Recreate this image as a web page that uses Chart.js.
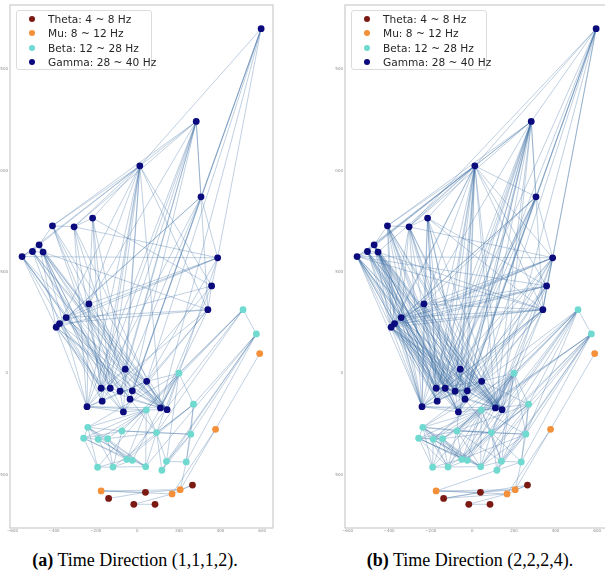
<!DOCTYPE html>
<html>
<head>
<meta charset="utf-8">
<script src="https://cdn.jsdelivr.net/npm/chart.js@4.4.1/dist/chart.umd.min.js"></script>
<style>
    body {
        margin: 0;
        width: 605px;
        height: 574px;
        overflow: hidden;
        background: #ffffff;
        position: relative;
    }
    canvas {
        position: absolute;
        top: 0;
    }
    .legend {
        position: absolute;
        top: 10px;
        width: 136px;
        height: 60px;
        border: 1px solid #dcdcdc;
        border-radius: 3px;
        background: rgba(255, 255, 255, 0.85);
        font-family: "DejaVu Sans", sans-serif;
        font-size: 10.6px;
        color: #262626;
        box-sizing: border-box;
    }
    .legend .row {
        position: absolute;
        left: 0;
        height: 14px;
        line-height: 14px;
        white-space: nowrap;
    }
    .legend .dot {
        position: absolute;
        left: 11.5px;
        top: 4px;
        width: 6px;
        height: 6px;
        border-radius: 50%;
    }
    .legend .label {
        position: absolute;
        left: 31px;
        top: 0;
    }
    .caption {
        position: absolute;
        top: 551px;
        width: 300px;
        text-align: center;
        font-family: "Liberation Serif", "Times New Roman", serif;
        font-size: 18px;
        line-height: 18px;
        color: #000000;
    }
</style>
</head>
<body>
<canvas id="chartA" width="280" height="545" style="left:0px"></canvas>
<canvas id="chartB" width="280" height="545" style="left:335px"></canvas>
<div class="legend" id="legendA" style="left:16px"></div>
<div class="legend" id="legendB" style="left:351px"></div>
<div class="caption" style="left:-15px"><b>(a)</b> Time Direction (1,1,1,2).</div>
<div class="caption" style="left:320px"><b>(b)</b> Time Direction (2,2,2,4).</div>

<script>
// frequency bands
const bandNames = ["Theta: 4 ~ 8 Hz", "Mu: 8 ~ 12 Hz", "Beta: 12 ~ 28 Hz", "Gamma: 28 ~ 40 Hz"];
const bandColors = ["#7b1a12", "#f4903a", "#70d9d0", "#0b0b7e"];

// electrode positions per band
const thetaX = [265, 39, -138, -17, 85];
const thetaY = [-552, -588, -618, -647, -647];

const muX = [588, 376, -174, 206, 167];
const muY = [97, -277, -581, -575, -596];

const betaX = [508, 572, 200, 270, 43, -238, -74, -258, -188, -143,
    92, 257, -51, -24, 140, 235, -191, -117, 40, 118];
const betaY = [314, 194, 0, -153, -181, -267, -285, -321, -326, -323,
    -293, -301, -425, -430, -435, -438, -464, -463, -461, -479];

const gammaX = [595, 283, 12, 306, -408, -304, -215, -472, -504, -453,
    -554, 386, 357, -233, 339, -342, -374, -390, -58, 45,
    -174, -130, -83, -24, -35, -169, -242, -67, 111, 143];
const gammaY = [1701, 1243, 1024, 871, 728, 723, 766, 634, 601, 598,
    576, 570, 431, 342, 314, 275, 245, 227, 20, -40,
    -74, -74, -89, -87, -128, -138, -165, -191, -171, -180];

// axis ticks
const xTickValues = [-600, -400, -200, 0, 200, 400, 600];
const yTickValues = [-500, 0, 500, 1000, 1500];

// connections (a)
const edgesA = [
    "G0 G2", "G0 G3", "G0 G11", "G0 G19", "G0 G23", "G0 G28", "G0 G24",
    "G1 G2", "G1 G4", "G1 G5", "G1 G3", "G1 G18", "G1 G20", "G1 G21", "G1 G22",
    "G1 G24", "G1 G26", "G1 G14", "G1 G13",
    "G2 G4", "G2 G7", "G2 G10", "G2 G5", "G2 G6", "G2 G13", "G2 G16", "G2 G18",
    "G2 G20", "G2 G21", "G2 G25", "G2 G26", "G2 G27", "G2 G14", "G2 G28", "G2 G12",
    "G3 G17", "G3 G20", "G3 G24", "G3 G22", "G3 G11", "G3 G15",
    "G4 G7", "G4 G5", "G4 G18", "G4 G22", "G4 G29", "G4 G21",
    "G5 G11", "G5 G6", "G5 G20", "G5 G24", "G5 G26", "G5 G28",
    "G6 G18", "G6 G21", "G6 G25", "G6 G13", "G6 G12",
    "G7 G8", "G7 G10", "G7 G17", "G7 G23", "G7 G28", "G7 G29", "G7 G27", "G7 G20",
    "G8 G10", "G8 G9", "G8 G16", "G8 G22", "G8 G24", "G8 G28", "G8 G29",
    "G9 G14", "G9 G25", "G9 G26", "G9 G18", "G9 G29", "G9 G21",
    "G10 G11", "G10 G15", "G10 G17", "G10 G20", "G10 G22", "G10 G28", "G10 G24",
    "G11 G12", "G11 G13", "G11 G15", "G11 G19", "G11 G29", "G11 G16",
    "G12 G14", "G12 G17", "G12 G22", "G12 G28",
    "G13 G15", "G13 G20", "G13 G23", "G13 G29", "G13 G26",
    "G14 G15", "G14 G16", "G14 G19", "G14 G27", "G14 G28", "G14 G21",
    "G15 G16", "G15 G17", "G15 G21", "G15 G24", "G15 G28", "G15 G29",
    "G16 G20", "G16 G22", "G16 G25", "G16 G29",
    "G17 G20", "G17 G26", "G17 G23", "G17 G27", "G17 G28",
    "G18 G19", "G18 G20", "G18 G29", "G18 G26",
    "G19 G24", "G19 G25", "G19 G26",
    "G20 G21", "G20 G26", "G20 G27", "G20 G28",
    "G21 G22", "G21 G25", "G22 G23", "G22 G27", "G23 G28", "G23 G29",
    "G24 G29", "G24 G27", "G25 G26", "G26 G27", "G26 G28", "G28 G29",
    "G26 B4", "G27 B4", "G29 B4", "G28 B2", "G19 B2", "G24 B10",
    "B0 B1", "B0 B2", "B0 B4", "B0 B6", "B0 B10", "B0 B12",
    "B1 B3", "B1 B11", "B1 B14", "B1 B15", "B1 B19", "B1 B18",
    "B2 B3", "B2 B4", "B2 B5", "B2 B10", "B2 B14", "B2 B13",
    "B3 B11", "B3 B15", "B3 B10", "B3 B17", "B3 B12",
    "B4 B5", "B4 B7", "B4 B8", "B4 B9", "B4 B12", "B4 B16", "B4 B18", "B4 B10",
    "B5 B6", "B5 B7", "B5 B8", "B5 B16", "B5 B12", "B5 B18", "B5 B9",
    "B6 B7", "B6 B10", "B6 B11", "B6 B17",
    "B7 B16", "B7 B8", "B7 B12", "B7 B13",
    "B8 B9", "B8 B17", "B8 B13", "B8 B18",
    "B9 B12", "B9 B18", "B9 B17", "B9 B10",
    "B10 B11", "B10 B14", "B10 B18", "B10 B19",
    "B11 B14", "B11 B15", "B11 B19",
    "B12 B13", "B12 B16", "B13 B17", "B13 B18",
    "B14 B15", "B14 B19", "B16 B17", "B17 B18",
    "B15 M3", "M0 M3", "M1 M4",
    "M2 M3", "M2 T1", "M2 M4", "M3 T0", "M3 T1",
    "M4 T0", "M4 T3", "T1 T2", "T3 T4"
];

// extra connections (b)
const extraB = [
    "G0 G1", "G0 G20", "G0 G22", "G0 G14", "G0 G5",
    "G1 G23", "G1 G27", "G1 G25", "G1 G7", "G1 G28", "G1 G29", "G1 G19",
    "G2 G8", "G2 G9", "G2 G17", "G2 G22", "G2 G23", "G2 G24", "G2 G29", "G2 G3", "G2 G11",
    "G3 G21", "G3 G25", "G3 G27", "G3 G13",
    "G4 G16", "G4 G17", "G4 G25", "G4 G27", "G4 G28", "G4 G26",
    "G5 G17", "G5 G22", "G5 G29", "G5 G15", "G5 G23",
    "G6 G20", "G6 G24", "G6 G26", "G6 G29", "G6 G14",
    "G7 G9", "G7 G15", "G7 G21", "G7 G24", "G7 G22", "G7 G26",
    "G8 G17", "G8 G20", "G8 G25", "G8 G27", "G8 G21",
    "G9 G10", "G9 G15", "G9 G20", "G9 G23", "G9 G27", "G9 G28",
    "G10 G16", "G10 G21", "G10 G25", "G10 G26", "G10 G29", "G10 G14", "G10 G12",
    "G11 G17", "G11 G20", "G11 G23", "G11 G25", "G11 G28", "G11 G14",
    "G12 G13", "G12 G15", "G12 G19", "G12 G24", "G12 G16",
    "G13 G16", "G13 G17", "G13 G21", "G13 G24", "G13 G28", "G13 G14",
    "G14 G17", "G14 G22", "G14 G25", "G14 G29", "G14 G26",
    "G15 G20", "G15 G25", "G15 G22", "G15 G26",
    "G16 G17", "G16 G21", "G16 G24", "G16 G26", "G16 G27", "G16 G28",
    "G17 G21", "G17 G22", "G17 G24", "G17 G25", "G17 G29",
    "G18 G22", "G18 G24", "G18 G28", "G18 G21",
    "G19 G27", "G19 G29", "G19 G20",
    "G20 G22", "G20 G23", "G20 G24",
    "G21 G23", "G21 G27", "G21 G26", "G22 G24", "G22 G25", "G23 G24", "G23 G27",
    "G29 B10", "G27 B6", "G19 B3", "G28 B4",
    "B0 B3", "B0 B5", "B0 B8", "B0 B11", "B0 B13", "B0 B18",
    "B1 B4", "B1 B6", "B1 B9", "B1 B10", "B1 B13",
    "B2 B6", "B2 B8", "B2 B11", "B2 B12", "B2 B17", "B2 B19",
    "B3 B4", "B3 B6", "B3 B14", "B3 B18",
    "B4 B6", "B4 B11", "B4 B13", "B4 B17", "B4 B14",
    "B5 B10", "B5 B13", "B5 B17",
    "B6 B9", "B6 B12", "B6 B14", "B6 B18",
    "B7 B9", "B7 B17", "B7 B18",
    "B8 B12", "B8 B16", "B9 B16", "B9 B13",
    "B10 B12", "B10 B15", "B11 B18", "B11 B12", "B14 B18",
    "M2 B15", "T2 T0", "T2 M4"
];

const edgesB = edgesA.concat(extraB);

const bands = {
    T: [thetaX, thetaY],
    M: [muX, muY],
    B: [betaX, betaY],
    G: [gammaX, gammaY]
};

function nodeAt(id) {
    const arr = bands[id[0]];
    const i = parseInt(id.slice(1));
    return { x: arr[0][i], y: arr[1][i] };
}

function edgePoints(edges) {
    const pts = [];
    edges.forEach((e) => {
        const ends = e.split(" ");
        const a = nodeAt(ends[0]);
        const b = nodeAt(ends[1]);
        pts.push({ x: a.x, y: a.y });
        pts.push({ x: b.x, y: b.y });
        pts.push({ x: b.x, y: null });
    });
    return pts;
}

function bandPoints(xs, ys) {
    return xs.map((x, i) => ({ x, y: ys[i] }));
}

const framePlugin = {
    id: "frame",
    afterDraw(chart) {
        const a = chart.chartArea;
        const ctx = chart.ctx;
        ctx.save();
        ctx.strokeStyle = "#cbcbcb";
        ctx.lineWidth = 1.2;
        ctx.strokeRect(a.left, a.top, a.right - a.left, a.bottom - a.top);
        ctx.restore();
    }
};

function tickLabel(v) {
    return v < 0 ? "\u2212" + Math.abs(v) : String(v);
}

function makeChart(canvasId, edges) {
    const nodeSets = [
        bandPoints(thetaX, thetaY),
        bandPoints(muX, muY),
        bandPoints(betaX, betaY),
        bandPoints(gammaX, gammaY)
    ];

    const datasets = nodeSets.map((pts, i) => ({
        label: bandNames[i],
        data: pts,
        backgroundColor: bandColors[i],
        borderWidth: 0,
        pointRadius: 3.4,
        order: 0
    }));

    datasets.push({
        label: "edges",
        data: edgePoints(edges),
        showLine: true,
        spanGaps: false,
        borderColor: "rgba(58, 106, 160, 0.4)",
        borderWidth: 0.8,
        pointRadius: 0,
        segment: {},
        order: 2
    });

    new Chart(document.getElementById(canvasId), {
        type: "scatter",
        data: { datasets },
        options: {
            responsive: false,
            animation: false,
            events: [],
            layout: {
                padding: { top: 5, right: 7, left: 0, bottom: 0 }
            },
            plugins: {
                legend: { display: false },
                tooltip: { enabled: false }
            },
            scales: {
                x: {
                    type: "linear",
                    min: -612,
                    max: 652,
                    grid: { display: false, drawTicks: false },
                    border: { display: false },
                    afterBuildTicks: (s) => {
                        s.ticks = xTickValues.map((v) => ({ value: v }));
                    },
                    afterFit: (s) => { s.height = 17; },
                    ticks: {
                        autoSkip: false,
                        maxRotation: 0,
                        padding: 1,
                        color: "#8a8a8a",
                        font: { size: 4, family: "DejaVu Sans" },
                        callback: tickLabel
                    }
                },
                y: {
                    type: "linear",
                    min: -764,
                    max: 1818,
                    grid: { display: false, drawTicks: false },
                    border: { display: false },
                    afterBuildTicks: (s) => {
                        s.ticks = yTickValues.map((v) => ({ value: v }));
                    },
                    afterFit: (s) => { s.width = 10; },
                    ticks: {
                        autoSkip: false,
                        padding: 2,
                        color: "#8a8a8a",
                        font: { size: 4, family: "DejaVu Sans" },
                        callback: tickLabel
                    }
                }
            }
        },
        plugins: [framePlugin]
    });
}

function makeLegend(divId) {
    const box = document.getElementById(divId);
    bandNames.forEach((name, i) => {
        const row = document.createElement("div");
        row.className = "row";
        row.style.top = (0.5 + i * 14.6) + "px";
        row.innerHTML =
            '<span class="dot" style="background:' + bandColors[i] + '"></span>' +
            '<span class="label">' + name + '</span>';
        box.appendChild(row);
    });
}

makeChart("chartA", edgesA);
makeChart("chartB", edgesB);
makeLegend("legendA");
makeLegend("legendB");
</script>
</body>
</html>
